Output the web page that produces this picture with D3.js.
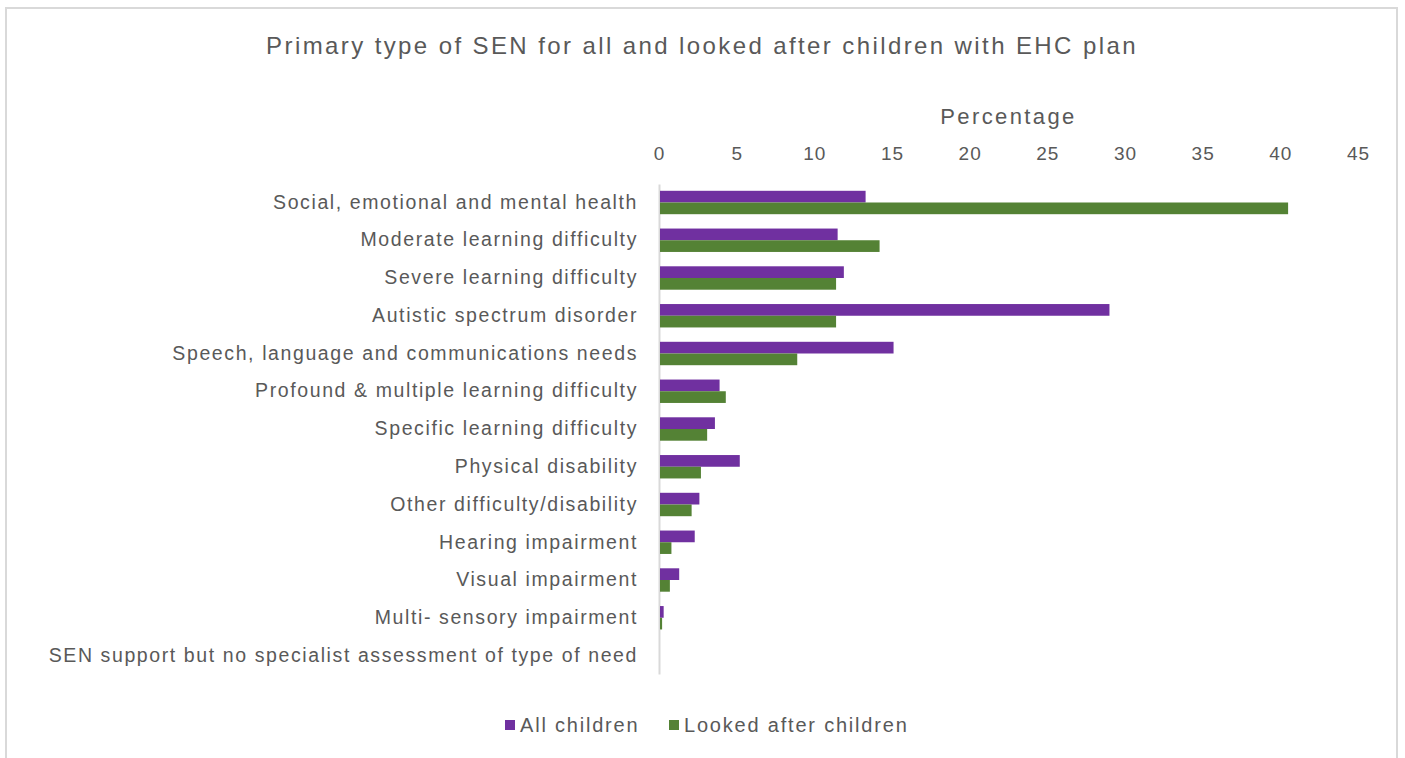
<!DOCTYPE html>
<html>
<head>
<meta charset="utf-8">
<script src="https://cdn.jsdelivr.net/npm/d3@7"></script>
<style>
  body { margin: 0; background: #fff; }
  svg text { font-family: "Liberation Sans", Arial, sans-serif; fill: #595959; }
</style>
</head>
<body>
<div id="chart"></div>
<script>
// Data

var categories = [
  "Social, emotional and mental health",
  "Moderate learning difficulty",
  "Severe learning difficulty",
  "Autistic spectrum disorder",
  "Speech, language and communications needs",
  "Profound & multiple learning difficulty",
  "Specific learning difficulty",
  "Physical disability",
  "Other difficulty/disability",
  "Hearing impairment",
  "Visual impairment",
  "Multi- sensory impairment",
  "SEN support but no specialist assessment of type of need"
];
var allChildren = [13.3, 11.5, 11.9, 29.0, 15.1, 3.9, 3.6, 5.2, 2.6, 2.3, 1.3, 0.3, 0];
var lookedAfter = [40.5, 14.2, 11.4, 11.4, 8.9, 4.3, 3.1, 2.7, 2.1, 0.8, 0.7, 0.2, 0];
var xTicks = [0, 5, 10, 15, 20, 25, 30, 35, 40, 45];
var seriesNames = ["All children", "Looked after children"];
var colors = ["#7030A0", "#548235"];

var width = 1405, height = 758;
var margin = {top: 184, right: 47, bottom: 84, left: 659};

var svg = d3.select("#chart")
  .append("svg")
  .attr("width", width)
  .attr("height", height);

// chart frame
svg.append("rect")
  .attr("x", 6)
  .attr("y", 8)
  .attr("width", 1391)
  .attr("height", 770)
  .attr("fill", "none")
  .attr("stroke", "#d9d9d9")
  .attr("stroke-width", 2);

// Scales

var xScale = d3.scaleLinear()
  .domain([0, 45])
  .range([margin.left, width - margin.right]);

var yScale = d3.scaleBand()
  .domain(categories)
  .range([margin.top, height - margin.bottom])
  .paddingInner(0.38)
  .paddingOuter(0.18);

var yInner = d3.scaleBand()
  .domain(seriesNames)
  .range([0, yScale.bandwidth()]);

// Title

svg.append("text")
  .attr("x", 702)
  .attr("y", 54)
  .attr("text-anchor", "middle")
  .attr("font-size", "24px")
  .attr("letter-spacing", "2.4px")
  .text("Primary type of SEN for all and looked after children with EHC plan");

svg.append("text")
  .attr("x", xScale(22.5))
  .attr("y", 124)
  .attr("text-anchor", "middle")
  .attr("font-size", "22px")
  .attr("letter-spacing", "2.4px")
  .text("Percentage");

// Axes

var xAxis = svg.append("g")
  .attr("transform", `translate(0, ${margin.top - 24})`)
  .call(d3.axisTop(xScale).tickValues(xTicks).tickSize(0).tickPadding(0));
xAxis.select(".domain").remove();
xAxis.selectAll("text")
  .attr("font-size", "19px")
  .attr("font-family", null)
  .attr("letter-spacing", "1px")
  .attr("dy", "0");

var yAxis = svg.append("g")
  .attr("transform", `translate(${margin.left}, 0)`)
  .call(d3.axisLeft(yScale).tickSize(0).tickPadding(21));
yAxis.select(".domain")
  .attr("stroke", "#d9d9d9")
  .attr("stroke-width", 2);
yAxis.selectAll("text")
  .attr("font-size", "19.5px")
  .attr("font-family", null)
  .attr("letter-spacing", "1.6px");

// Bars

var group = svg.selectAll(".cat")
  .data(categories)
  .enter().append("g")
  .attr("class", "cat")
  .attr("transform", d => `translate(0, ${yScale(d)})`);

group.append("rect")
  .attr("x", xScale(0) + 1)
  .attr("y", yInner(seriesNames[0]))
  .attr("width", (d, i) => Math.max(0, xScale(allChildren[i]) - xScale(0) - 1))
  .attr("height", yInner.bandwidth())
  .attr("fill", colors[0]);

group.append("rect")
  .attr("x", xScale(0) + 1)
  .attr("y", yInner(seriesNames[1]))
  .attr("width", (d, i) => Math.max(0, xScale(lookedAfter[i]) - xScale(0) - 1))
  .attr("height", yInner.bandwidth())
  .attr("fill", colors[1]);

// Legend

var legendX = [505, 669];
var legend = svg.selectAll(".legend")
  .data(seriesNames)
  .enter().append("g")
  .attr("class", "legend")
  .attr("transform", (d, i) => `translate(${legendX[i]}, 720)`);

legend.append("rect")
  .attr("width", 10)
  .attr("height", 10)
  .attr("fill", (d, i) => colors[i]);

legend.append("text")
  .attr("x", 15)
  .attr("y", 12)
  .attr("font-size", "20px")
  .attr("letter-spacing", "1.8px")
  .text(d => d);
</script>
</body>
</html>
